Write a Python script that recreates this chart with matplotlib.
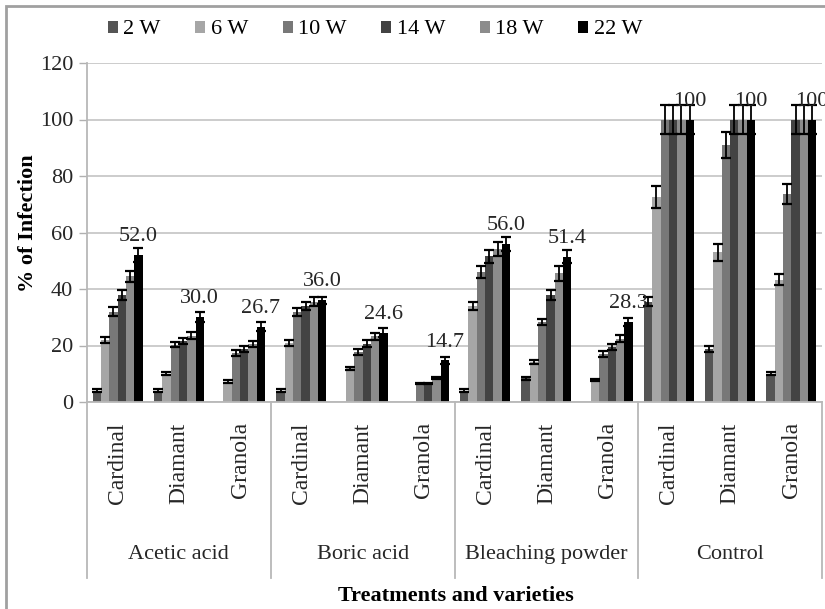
#!/usr/bin/env python3

import matplotlib

matplotlib.use("Agg")

import matplotlib.pyplot as plt
import numpy as np
from matplotlib.patches import Rectangle

treatments = ["Acetic acid", "Boric acid", "Bleaching powder", "Control"]
varieties = ["Cardinal", "Diamant", "Granola"]
series = ["2 W", "6 W", "10 W", "14 W", "18 W", "22 W"]

# % infection per category (treatment x variety), one list per week
w2 = [4, 4, 0, 4, 0, 0, 4, 8.4, 0, 35.5, 18.7, 10]
w6 = [22, 10, 7.2, 21, 12, 0, 34, 14.3, 7.8, 72.5, 53, 43.3]
w10 = [32, 20.3, 17.3, 31.8, 17.8, 6.6, 46, 28.3, 17, 100, 91, 73.5]
w14 = [38, 21.6, 18.8, 34, 20.7, 6.6, 51.6, 37.8, 19.4, 100, 100, 100]
w18 = [44.5, 23.5, 20.5, 35.5, 23.3, 8.5, 54.2, 45.5, 22.4, 100, 100, 100]
w22 = [52.0, 30.0, 26.7, 36.0, 24.6, 14.7, 56.0, 51.4, 28.3, 100, 100, 100]

e2 = [0.5, 0.5, 0, 0.5, 0, 0, 0.5, 0.5, 0, 1.5, 1.0, 0.6]
e6 = [1.0, 0.6, 0.5, 1.0, 0.5, 0, 1.5, 0.7, 0.5, 4.0, 3.0, 2.0]
e10 = [1.5, 1.0, 1.0, 1.5, 1.0, 0.3, 2.0, 1.2, 1.0, 5.0, 4.7, 3.5]
e14 = [1.8, 1.2, 1.0, 1.5, 1.2, 0.3, 2.3, 1.8, 1.0, 5.0, 5.0, 5.0]
e18 = [2.0, 1.2, 1.0, 1.5, 1.2, 0.5, 2.5, 2.5, 1.2, 5.0, 5.0, 5.0]
e22 = [2.5, 1.8, 1.5, 1.2, 1.5, 1.2, 2.5, 2.3, 1.5, 5.0, 5.0, 5.0]

top_labels = ["52.0", "30.0", "26.7", "36.0", "24.6", "14.7",
              "56.0", "51.4", "28.3", "100", "100", "100"]

colors = ["#555555", "#a6a6a6", "#787878", "#434343", "#8c8c8c", "#000000"]

plt.rcParams["font.family"] = ["Liberation Serif", "DejaVu Serif"]
plt.rcParams["font.size"] = 16

fig = plt.figure(figsize=(8.25, 6.09), dpi=100)
ax = fig.add_axes([87 / 825, 1 - 402 / 609, 735 / 825, 339 / 609])

values = [w2, w6, w10, w14, w18, w22]
errors = [e2, e6, e10, e14, e18, e22]
n_cat = len(treatments) * len(varieties)
x = np.arange(n_cat)
bar_w = 0.136

for i, (name, vals, errs, col) in enumerate(zip(series, values, errors, colors)):
    xs = x + (i - 2.5) * bar_w
    ax.bar(xs, vals, width=bar_w, color=col, label=name, zorder=2)
    keep = [k for k in range(n_cat) if vals[k] > 0]
    ax.errorbar(xs[keep], np.array(vals)[keep], yerr=np.array(errs)[keep],
                fmt="none", ecolor="black", elinewidth=1.3, capsize=3.5,
                capthick=1.6, zorder=3)

x22 = x + 2.5 * bar_w
for k, txt in enumerate(top_labels):
    ax.annotate(txt, (x22[k], w22[k]), xytext=(0, 10), textcoords="offset points",
                ha="center", va="baseline", color="#262626", annotation_clip=False)

ax.set_xlim(-0.5, n_cat - 0.5)
ax.set_ylim(0, 120)
ax.set_yticks(range(0, 121, 20))
ax.yaxis.grid(True, color="#c8c8c8", linewidth=1.3, zorder=0)
ax.set_axisbelow(True)
ax.tick_params(axis="y", direction="out", length=6, width=1, color="#b0b0b0",
               pad=4, labelcolor="#262626")
ax.set_xticks([])

for side in ("top", "right"):
    ax.spines[side].set_visible(False)
for side in ("left", "bottom"):
    ax.spines[side].set_color("#b8b8b8")
    ax.spines[side].set_linewidth(1.3)

# multi-level category axis
trans = ax.get_xaxis_transform()
for g in range(len(treatments) + 1):
    ax.plot([g * 3 - 0.5] * 2, [0, -0.519], transform=trans, color="#b8b8b8",
            linewidth=1.3, clip_on=False)
for g, treat in enumerate(treatments):
    ax.text(g * 3 + 1, -0.45, treat, transform=trans, ha="center", va="center",
            color="#262626")
    for v, var in enumerate(varieties):
        ax.text(g * 3 + v, -0.06, var, transform=trans, rotation=90,
                ha="center", va="top", color="#262626", fontsize=17)

fig.text(28 / 825, 1 - 223 / 609, "% of Infection", rotation=90, ha="center",
         va="center", fontweight="bold")
fig.text(456 / 825, 1 - 596 / 609, "Treatments and varieties", ha="center",
         va="center", fontweight="bold")

fig.legend(loc="center", bbox_to_anchor=(375 / 825, 1 - 30 / 609), ncol=6,
           frameon=False, handlelength=0.45, handleheight=0.45,
           handletextpad=0.25, columnspacing=1.55, fontsize=16)

fig.patches.append(Rectangle((6 / 825, -0.1), 1.2, 1.1 - 6 / 609, fill=False,
                             edgecolor="#a0a0a0", linewidth=2,
                             transform=fig.transFigure, figure=fig))

fig.savefig("out.png", dpi=100)
plt.close(fig)
